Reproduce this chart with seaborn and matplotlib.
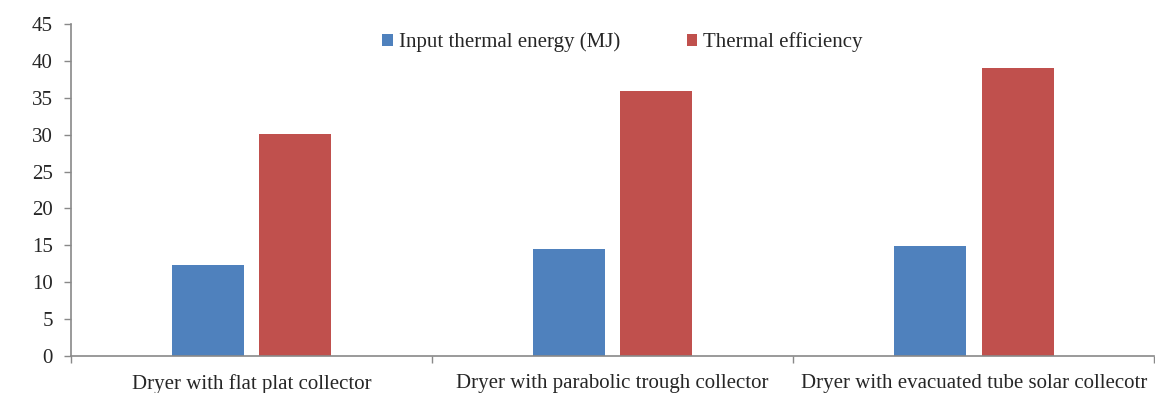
import matplotlib
matplotlib.use("Agg")
import matplotlib.pyplot as plt
import seaborn as sns
import pandas as pd
from matplotlib.patches import Patch

categories = ["Dryer with flat plat collector",
              "Dryer with parabolic trough collector",
              "Dryer with evacuated tube solar collecotr"]
series_names = ["Input thermal energy (MJ)", "Thermal efficiency"]
input_energy = [12.3, 14.5, 14.95]
thermal_eff = [30.1, 35.9, 39.0]
yticks = [0, 5, 10, 15, 20, 25, 30, 35, 40, 45]
colors = ["#4F81BD", "#C0504D"]

df = pd.DataFrame({
    "cat": categories * 2,
    "series": [series_names[0]] * 3 + [series_names[1]] * 3,
    "value": input_energy + thermal_eff,
})

sns.set_style("white")
plt.rcParams["font.family"] = ["Liberation Serif", "DejaVu Serif"]

fs = 15
fig = plt.figure(figsize=(11.55, 3.93), dpi=100)
ax = fig.add_axes([0.0615, 0.094, 0.938, 0.845])
sns.barplot(data=df, x="cat", y="value", hue="series", palette=colors,
            width=0.484, gap=0.177, ax=ax, legend=False, saturation=1,
            edgecolor="none")

ax.set_xlim(-0.5, 2.5)
ax.set_ylim(0, 45)
ax.set_yticks(yticks)
ax.set_yticklabels([str(t) for t in yticks], fontsize=fs)
ax.set_xticks([-0.5, 0.5, 1.5, 2.5])
ax.set_xticklabels([])
ax.set_xticks([0, 1, 2], minor=True)
ax.set_xticklabels(categories, minor=True, fontsize=fs)
ax.tick_params(axis="x", which="major", length=5, width=1, color="#898989", direction="out", bottom=True)
ax.tick_params(axis="x", which="minor", length=0, pad=13)
ax.tick_params(axis="y", length=5, width=1, color="#898989", direction="out", left=True, pad=8)
ax.set_xlabel("")
ax.set_ylabel("")
for s in ["top", "right"]:
    ax.spines[s].set_visible(False)
for s in ["left", "bottom"]:
    ax.spines[s].set_color("#898989")
    ax.spines[s].set_linewidth(1.2)

handles = [Patch(facecolor=c, edgecolor="none") for c in colors]
fig.legend(handles, series_names, loc="center", bbox_to_anchor=(0.539, 0.893),
           ncol=2, frameon=False, fontsize=fs, handlelength=0.5, handleheight=0.5,
           handletextpad=0.3, columnspacing=3.2)

fig.savefig("out.png", dpi=100)
